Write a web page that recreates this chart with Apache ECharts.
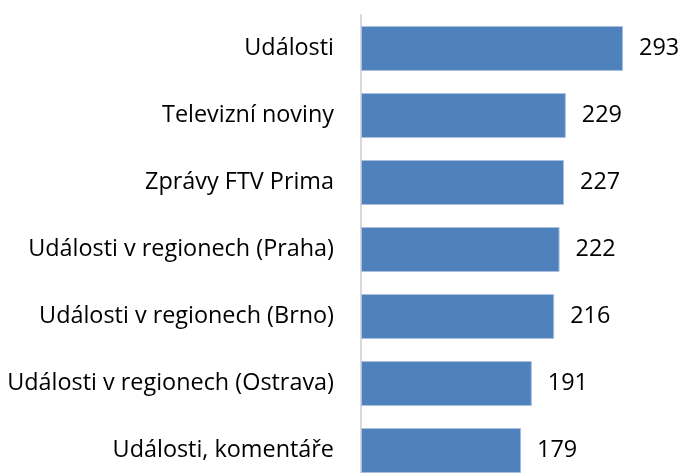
<!DOCTYPE html>
<html>
<head>
<meta charset="utf-8">
<script src="https://cdn.jsdelivr.net/npm/echarts@6/dist/echarts.min.js"></script>
<style>
  html, body { margin: 0; padding: 0; background: #fff; }
  #chart { width: 682px; height: 473px; }
</style>
</head>
<body>
<div id="chart"></div>
<script>
// categories top to bottom
const categories = [
  "Události",
  "Televizní noviny",
  "Zprávy FTV Prima",
  "Události v regionech (Praha)",
  "Události v regionech (Brno)",
  "Události v regionech (Ostrava)",
  "Události, komentáře"
];
const values = [293, 229, 227, 222, 216, 191, 179];

const font = "Open Sans";
const myChart = echarts.init(document.getElementById("chart"));

myChart.setOption({
  animation: false,
  grid: {
    left: 361,
    top: 15,
    width: 322,
    height: 469,
    outerBoundsMode: "none",
    containLabel: false
  },
  xAxis: {
    type: "value",
    min: 0,
    max: 360,
    show: false
  },
  yAxis: {
    type: "category",
    data: categories,
    inverse: true,
    axisLine: {
      show: true,
      lineStyle: { color: "#d9d9d9", width: 2 }
    },
    axisTick: { show: false },
    axisLabel: {
      color: "#000",
      fontFamily: font,
      fontSize: 23.4,
      margin: 27
    }
  },
  series: [
    {
      type: "bar",
      data: values,
      barWidth: 45,
      itemStyle: {
        color: "#4f81bd",
        borderColor: "#a9c0de",
        borderWidth: 1
      },
      label: {
        show: true,
        position: "right",
        distance: 16,
        color: "#000",
        fontFamily: font,
        fontSize: 23.4
      }
    }
  ]
});
</script>
</body>
</html>
